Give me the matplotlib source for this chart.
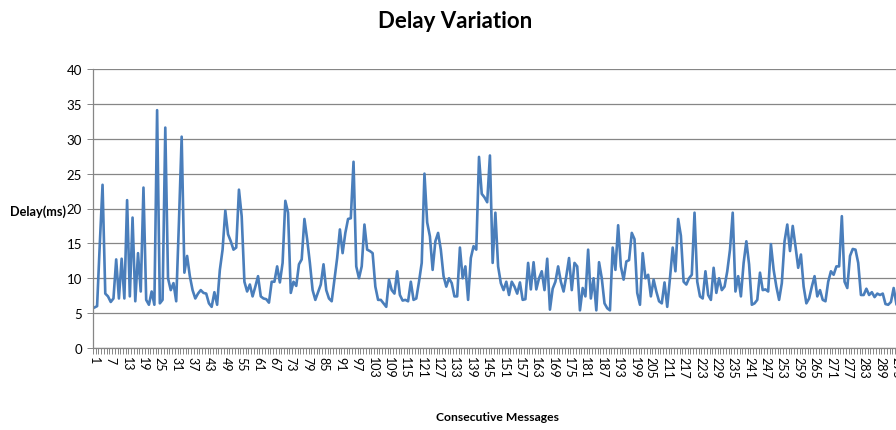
import numpy as np
import matplotlib
matplotlib.use("Agg")
import matplotlib.pyplot as plt

# delay per message (ms), messages 1..295
delay_1_48 = [5.8, 6.0, 15.0, 23.4, 7.8, 7.4, 6.6, 7.1, 12.7, 7.1, 12.8, 7.1,
              21.2, 7.4, 18.7, 6.7, 13.6, 8.1, 23.0, 6.9, 6.2, 8.1, 6.2, 34.1,
              6.4, 6.9, 31.6, 10.0, 8.3, 9.3, 6.7, 18.0, 30.3, 10.8, 13.2, 10.3,
              8.3, 7.1, 7.8, 8.3, 7.9, 7.8, 6.4, 5.9, 8.0, 6.2, 11.2, 14.1]
delay_49_96 = [19.7, 16.3, 15.3, 14.1, 14.4, 22.7, 18.9, 9.5, 8.1, 9.1, 7.4, 8.8,
               10.3, 7.4, 7.1, 7.0, 6.5, 9.5, 9.5, 11.7, 9.4, 12.2, 21.1, 19.4,
               7.9, 9.5, 8.9, 12.0, 12.7, 18.5, 15.6, 12.2, 8.3, 6.9, 8.0, 9.1,
               12.0, 8.3, 7.1, 6.7, 9.8, 12.9, 17.0, 13.6, 16.5, 18.5, 18.6, 26.7]
delay_97_147 = [11.7, 10.0, 11.7, 17.7, 14.1, 13.9, 13.6, 8.8, 6.9, 6.9, 6.4, 5.9,
                9.8, 8.3, 7.8, 11.0, 7.6, 6.8, 6.9, 6.7, 9.5, 6.9, 7.1, 9.5,
                12.2, 25.0, 18.0, 16.0, 11.2, 15.3, 16.5, 14.1, 10.3, 8.8, 10.0, 9.3,
                7.4, 7.4, 14.4, 10.0, 11.7, 6.9, 12.9, 14.6, 14.1, 27.4, 22.1, 21.6,
                20.9, 27.6, 12.2]
delay_148_196 = [19.4, 11.7, 9.3, 8.3, 9.5, 7.6, 9.5, 8.8, 7.8, 9.4, 6.9, 7.0,
                 12.2, 8.4, 12.3, 8.4, 10.0, 11.0, 8.3, 12.8, 5.5, 8.5, 9.5, 11.7,
                 9.5, 8.1, 10.3, 12.9, 8.3, 12.2, 11.7, 5.4, 8.6, 7.4, 14.1, 7.1,
                 10.0, 5.4, 12.3, 10.0, 6.4, 5.7, 5.4, 14.4, 11.2, 17.6, 11.7, 9.8,
                 12.4]
delay_197_245 = [12.6, 16.5, 15.6, 7.9, 6.2, 13.6, 10.0, 10.5, 7.4, 9.8, 8.1, 6.7,
                 6.4, 9.4, 5.9, 10.0, 14.4, 11.0, 18.5, 16.1, 9.5, 9.1, 10.0, 10.5,
                 19.4, 9.5, 7.4, 7.1, 11.0, 7.6, 6.9, 11.5, 7.9, 10.0, 8.3, 8.8,
                 11.0, 14.1, 19.4, 8.1, 10.3, 7.4, 12.2, 15.3, 12.0, 6.2, 6.4, 6.9,
                 10.8]
delay_246_295 = [8.3, 8.4, 8.1, 14.9, 11.2, 8.8, 6.9, 9.3, 15.3, 17.7, 13.9, 17.5,
                 14.6, 11.5, 13.4, 8.8, 6.4, 7.1, 8.8, 10.3, 7.4, 8.3, 6.9, 6.7,
                 9.5, 11.0, 10.5, 11.7, 11.7, 18.9, 9.5, 8.6, 13.2, 14.2, 14.1, 12.2,
                 7.6, 7.6, 8.5, 7.6, 8.0, 7.3, 7.8, 7.6, 7.8, 6.3, 6.2, 6.6,
                 8.6, 6.3]

delay = (delay_1_48 + delay_49_96 + delay_97_147 + delay_148_196
         + delay_197_245 + delay_246_295)
messages = np.arange(1, len(delay) + 1)
n_categories = 300
tick_labels = list(range(1, n_categories + 1, 6))
y_ticks = list(range(0, 41, 5))

plt.rcParams["font.family"] = ["Lato", "DejaVu Sans"]

W, H = 896, 431
fig = plt.figure(figsize=(W / 100, H / 100), dpi=100)
# category axis runs past the right edge of the image
x0, x1, yb, yt = 93.0, 911.4, 349.0, 70.0
ax = fig.add_axes([x0 / W, (H - yb) / H, (x1 - x0) / W, (yb - yt) / H])

ax.plot(messages, delay, color="#4A7EBB", lw=1.9, solid_joinstyle="round")

ax.set_xlim(0.5, n_categories + 0.5)
ax.set_ylim(0, 40)
ax.set_yticks(y_ticks)
ax.set_xticks(tick_labels)
ax.set_xticklabels([str(t) for t in tick_labels], rotation=-90, fontsize=9)
ax.set_xticks(np.arange(0.5, n_categories + 1, 1), minor=True)
ax.tick_params(axis="x", which="major", length=0, pad=6)
ax.tick_params(axis="x", which="minor", length=4, width=0.7, color="#868686")
ax.tick_params(axis="y", length=4, width=0.7, color="#868686", labelsize=9.5, pad=4)

ax.grid(axis="y", color="#868686", lw=0.9)
ax.set_axisbelow(True)
for side in ["top", "right"]:
    ax.spines[side].set_visible(False)
for side in ["left", "bottom"]:
    ax.spines[side].set_color("#868686")
    ax.spines[side].set_linewidth(0.9)

fig.text(455 / W, 1 - 21 / H, "Delay Variation", ha="center", va="center",
         fontsize=16, fontweight="bold")
fig.text(10 / W, 1 - 212 / H, "Delay(ms)", ha="left", va="center",
         fontsize=9.2, fontweight="bold")
fig.text(497 / W, 1 - 418 / H, "Consecutive Messages", ha="center", va="center",
         fontsize=8.7, fontweight="bold")

fig.savefig("out.png", dpi=100)
